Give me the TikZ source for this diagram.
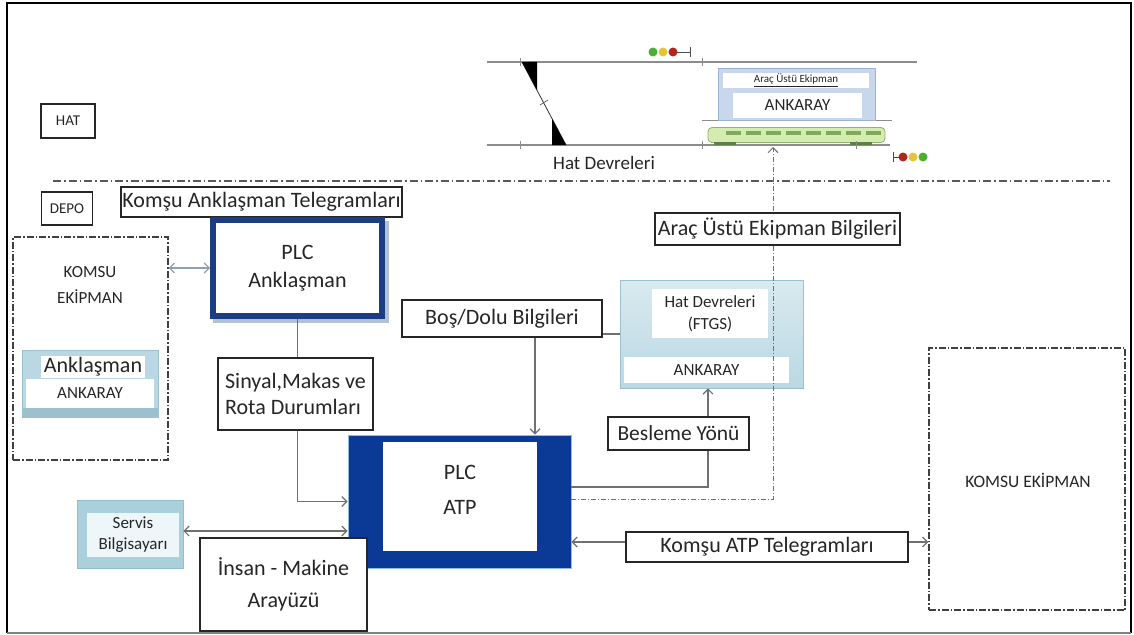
\documentclass[tikz,border=0pt]{standalone}
\usepackage{fontspec}
\setmainfont{Carlito}
\usetikzlibrary{arrows.meta,calc}
\definecolor{navy}{HTML}{1B3D83}
\definecolor{atpblue}{HTML}{0B3A96}
\definecolor{atpedge}{HTML}{8FBFE0}
\definecolor{lineg}{HTML}{707070}
\definecolor{arrlight}{HTML}{8DA3B3}
\definecolor{txt}{HTML}{262626}
\definecolor{glass}{HTML}{BAD8E3}
\definecolor{glassdk}{HTML}{9CC1CE}
\definecolor{railg}{HTML}{8C8C8C}
\definecolor{obfill}{HTML}{C9D7EC}
\definecolor{obedge}{HTML}{9DB3D5}
\definecolor{trainfill}{HTML}{D4EBB2}
\definecolor{trainedge}{HTML}{8DB46A}
\definecolor{trainwin}{HTML}{7FA85A}
\definecolor{trainbogie}{HTML}{5E7F43}
\definecolor{siggreen}{HTML}{4CAF35}
\definecolor{sigyellow}{HTML}{E6C43A}
\definecolor{sigred}{HTML}{B3261E}
\definecolor{shadowblue}{HTML}{B2C2D4}
\definecolor{servfill}{HTML}{A9D0DC}
\definecolor{servedge}{HTML}{93BFCC}
\definecolor{servin}{HTML}{EDF6F9}
\newcommand\myfs[1]{\fontsize{#1}{#1}\selectfont}
\begin{document}
\begin{tikzpicture}[x=1pt,y=-1pt,
  lbl/.style={draw=black!85,line width=1.5pt,fill=white,inner sep=0pt,text=txt,font=\myfs{22}},
  small/.style={draw=black!85,line width=1.3pt,fill=white,inner sep=0pt,text=txt,font=\myfs{15}},
  conn/.style={draw=lineg,line width=1.2pt},
  arr/.style={conn,-{Straight Barb[length=5pt,width=10pt]}},
  darr/.style={conn,{Straight Barb[length=5pt,width=10pt]}-{Straight Barb[length=5pt,width=10pt]}},
  dashbox/.style={draw=black!75,line width=1.2pt,dash pattern=on 7pt off 2pt on 1.5pt off 2pt,inner sep=0pt},
  dotline/.style={draw=lineg,line width=1pt,dash pattern=on 5pt off 2pt on 1pt off 2pt},
  rail/.style={draw=railg,line width=1.5pt},
  glassbox/.style={fill=glass,draw=glassdk,line width=0.6pt,inner sep=0pt},
  plain/.style={inner sep=0pt,text=txt,align=center}]
\useasboundingbox (0,0) rectangle (1134,634);
\fill[white] (0,0) rectangle (1134,634);

% outer frame
\draw[line width=2.5pt] (7,633) -- (7,3) -- (1131,3) -- (1131,633);
\draw[gray,line width=1.5pt] (7,633) -- (1131,633);

% ---------------- track (HAT) ----------------
\draw[rail] (487,62) -- (917,62);
\draw[rail] (487,145) -- (890,145);
\foreach \x in {520,702}{
  \draw[railg,line width=0.8pt] (\x,58) -- (\x,66);
  \draw[railg,line width=0.8pt] (\x,141) -- (\x,149);}
% crossover with switch blades
\draw[black!80,line width=0.8pt] (522,62) -- (566,145);
\fill[black] (522,62) -- (537,62) -- (537,90.3) -- cycle;
\fill[black] (552,118.6) -- (566,145) -- (552,145) -- cycle;
\draw[black!70,line width=0.6pt] (540,105) -- (548,100);
% platform line and on-board equipment
\draw[railg,line width=1pt] (702,120) -- (892,120);
\node[fill=obfill,draw=obedge,line width=0.8pt,inner sep=0pt,
      minimum width=157,minimum height=52] (onboard) at (796.5,94) {};
\node[fill=white,inner sep=0pt,minimum width=146,minimum height=15,
      font=\myfs{11},text=txt] (onboardtop) at (796,80) {\underline{Araç Üstü Ekipman}};
\node[fill=white,inner sep=0pt,minimum width=129,minimum height=25,
      font=\myfs{17},text=txt] (onboardank) at (797.5,105) {ANKARAY};
% train
\node[fill=trainfill,draw=trainedge,line width=0.8pt,rounded corners=4pt,
      inner sep=0pt,minimum width=177,minimum height=15] (train) at (796.5,135) {};
\foreach \x in {726,746,...,866}
  \fill[trainwin] (\x,131) rectangle +(15,4);
\fill[trainbogie] (714,142) rectangle (736,144.5);
\fill[trainbogie] (850,142) rectangle (872,144.5);
\draw[railg,line width=0.8pt] (856,141) -- (856,149);
% signals
\fill[siggreen] (653,52) circle (4.5pt);
\fill[sigyellow] (663,52) circle (4.5pt);
\fill[sigred] (673,52) circle (4.5pt);
\draw[black!70,line width=0.9pt] (677,52) -- (690,52) (690,47) -- (690,57);
\draw[black!70,line width=0.9pt] (893,152) -- (893,162) (893,157) -- (899,157);
\fill[sigred] (903,157) circle (4.5pt);
\fill[sigyellow] (913,157) circle (4.5pt);
\fill[siggreen] (923,157) circle (4.5pt);
\node[plain,font=\myfs{19}] (trackname) at (604,163) {Hat Devreleri};

% area separator
\draw[draw=black!65,line width=1.2pt,dash pattern=on 8pt off 3pt on 1.5pt off 3pt]
  (53,181) -- (1110,181);

% area labels
\node[small,minimum width=54,minimum height=34] (hat) at (68,121) {HAT};
\node[small,minimum width=51,minimum height=33] (depo) at (67,208.5) {DEPO};

% ---------------- DEPO ----------------
\node[lbl,minimum width=281,minimum height=30] (komsutel) at (261.5,202) {Komşu Anklaşman Telegramları};

% interlocking PLC
\fill[shadowblue] (213,221) rectangle (389,323);
\node[draw=navy,line width=6pt,fill=white,inner sep=0pt,minimum width=169,minimum height=96,
      text=txt,font={\fontsize{22}{28}\selectfont},align=center] (planc) at (297.5,268) {PLC\\Anklaşman};

% neighbouring equipment (left)
\node[dashbox,minimum width=155,minimum height=223] (komsuL) at (90.5,348.5) {};
\node[plain,font={\fontsize{17}{26}\selectfont}] (komsuLtxt) at (90,285) {KOMSU\\EKİPMAN};
\node[glassbox,minimum width=136,minimum height=67] (ankL) at (90,383.5) {};
\fill[glassdk] (22.5,408) rectangle (157.5,416.5);
\node[fill=white,inner sep=0pt,minimum width=104,minimum height=22,text=txt,font=\myfs{22}]
  (ankLtop) at (93,366.5) {Anklaşman};
\node[fill=white,inner sep=0pt,minimum width=128,minimum height=29,text=txt,font=\myfs{17}]
  (ankLbot) at (90,393) {ANKARAY};

% route / signal status label
\node[lbl,minimum width=155,minimum height=72,align=left,font={\fontsize{22}{26}\selectfont}]
  (sinyal) at (295.5,394) {Sinyal,Makas ve\\Rota Durumları};

% track circuits
\node[lbl,minimum width=200,minimum height=37] (bos) at (502,318.5) {Boş/Dolu Bilgileri};
\node[inner sep=0pt,minimum width=183,minimum height=108,top color=glass!55,bottom color=glass,
      draw=glassdk,line width=0.6pt] (hatbox) at (711.5,334) {};
\node[fill=white,inner sep=0pt,minimum width=116,minimum height=49,text=txt,align=center,
      font={\fontsize{17}{22}\selectfont}] (hatin) at (710,313.5) {Hat Devreleri\\(FTGS)};
\node[fill=white,inner sep=0pt,minimum width=165,minimum height=26,text=txt,font=\myfs{17}]
  (hatank) at (706.5,370) {ANKARAY};

% ATP PLC
\node[fill=atpblue,draw=atpedge,line width=0.8pt,inner sep=0pt,
      minimum width=223,minimum height=133] (atp) at (459.5,501.5) {};
\fill[white] (383,442) rectangle (537,551);
\node[plain,font={\fontsize{22}{35}\selectfont}] (atptxt) at (460,490) {PLC\\ATP};

% service computer
\node[fill=servfill,draw=servedge,line width=0.6pt,inner sep=0pt,
      minimum width=106,minimum height=68] (servis) at (130,534) {};
\node[fill=servin,inner sep=0pt,minimum width=92,minimum height=44,text=txt,align=center,
      font={\fontsize{17}{21}\selectfont}] (servisin) at (133,535) {Servis\\Bilgisayarı};

% neighbouring equipment (right)
\node[dashbox,minimum width=196,minimum height=262] (komsuR) at (1027,479) {};
\node[plain,font=\myfs{17.5}] (komsuRtxt) at (1028,480) {KOMSU EKİPMAN};

% feed direction label
\node[lbl,minimum width=141,minimum height=33,font=\myfs{21.5}] (besleme) at (678.5,433.5) {Besleme Yönü};
\coordinate (bend) at (773,182);

% ---------------- connectors ----------------
\draw[darr,draw=arrlight] (planc.west -| komsuL.east) -- (planc.west);
\draw[conn] (planc.south) -- (planc.south |- sinyal.north);
\draw[arr] ([xshift=2pt]sinyal.south) |- (atp.west);
\draw[darr] (servis.east |- 0,531) -- (atp.west |- 0,531);
\draw[arr] ([xshift=33pt]bos.south) -- ([xshift=33pt]bos.south |- atp.north);
\draw[conn] (hatbox.west -| bos.east) -- (hatbox.west);
\draw[conn] ([yshift=14.5pt]atp.east) -| ([xshift=29.5pt]besleme.south);
\draw[arr] ([xshift=29.5pt]besleme.north) -- ([xshift=29.5pt]besleme.north |- hatbox.south);
\draw[dotline] ([yshift=2.5pt]atp.east) -| (bend);
\draw[dotline,-{Straight Barb[length=5pt,width=10pt]}] (bend) -- ([xshift=-23.5pt]train.south |- 0,147);

% labels that sit on the connectors
\node[lbl,minimum width=245,minimum height=32] (aracbilgi) at (777.5,229) {Araç Üstü Ekipman Bilgileri};
\node[lbl,minimum width=167,minimum height=93,align=center,font={\fontsize{22}{32}\selectfont}]
  (insan) at (283.5,584.5) {İnsan - Makine\\Arayüzü};
\node[lbl,minimum width=282,minimum height=30] (komsuatp) at (767,547) {Komşu ATP Telegramları};
\draw[arr] (komsuatp.west |- 0,542) -- (atp.east |- 0,542);
\draw[arr] (komsuatp.east |- 0,542) -- (komsuR.west |- 0,542);
\end{tikzpicture}
\end{document}
